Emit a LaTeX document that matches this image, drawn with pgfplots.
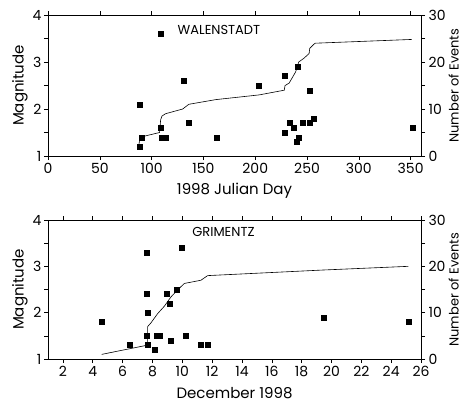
\documentclass[border=0pt]{standalone}
\usepackage{fontspec}
\setmainfont{Poppins}
\usepackage{pgfplots}
\pgfplotsset{compat=1.18}

\pgfplotstableread{
x m
88.5 1.2
88.5 2.1
90.5 1.4
108.7 3.6
108.7 1.6
110 1.4
113.5 1.4
131 2.6
136 1.7
163 1.4
203 2.5
228.5 2.7
228.5 1.5
233.3 1.7
237 1.6
240 1.3
241.3 2.9
242.3 1.4
245.8 1.7
252.9 2.4
252.9 1.7
256 1.8
352 1.6
}\walmag

\pgfplotstableread{
x c
87.5 2
88.8 4
107.7 5
108.7 7.7
110 8.5
113.5 9
130 10
135.9 11
162 12
203.8 13
228 14
228.8 15
232.7 15.5
239 17.9
242 20
247 20.8
252 21.8
252.6 22.9
256.7 23.8
258 24
351 24.8
}\walcum

\pgfplotstableread{
x m
4.63 1.8
6.48 1.3
7.59 3.3
7.64 2.4
7.70 2.0
7.59 1.5
7.70 1.3
8.13 1.2
8.26 1.5
8.51 1.5
8.93 2.4
9.20 1.4
9.18 2.2
9.64 2.5
9.96 3.4
10.22 1.5
11.25 1.3
11.72 1.3
19.45 1.9
25.15 1.8
}\grimag

\pgfplotstableread{
x c
4.6 1
7.68 3
7.68 7
7.9 7.8
8.35 9.8
8.8 11.4
9.13 12.9
9.24 13.4
9.69 14.9
10.13 16.3
11.25 17
11.7 18
19.4 19.2
25.15 20
}\gricum

\begin{document}
\begin{tikzpicture}[x=1pt,y=1pt]
\pgfplotsset{
  common/.style={
    scale only axis, width=373pt,
    anchor=south west,
    tick align=outside,
    /pgf/number format/assume math mode=true,
    axis line style={line width=0.6pt, black},
    major tick length=4pt, minor tick length=4pt,
    every tick/.style={line width=0.6pt, black},
    tick label style={font=\fontsize{14}{16}\selectfont},
  },
  magax/.style={common,
    ymin=1, ymax=4, ytick={1,2,3,4}, minor ytick={1.5,2.5,3.5},
    axis y line*=left,
    ylabel={Magnitude},
    yticklabel style={xshift=1pt},
    every axis y label/.style={at={(axis description cs:-0.075,0.5)}, rotate=90, anchor=center, font=\fontsize{15}{17}\selectfont},
    every axis x label/.style={at={(axis description cs:0.5,-0.245)}, anchor=center, font=\fontsize{15}{17}\selectfont},
    xtick pos=both, xticklabel pos=bottom,
  },
  cntax/.style={common,
    ymin=0, ymax=30, ytick={0,10,20,30}, minor ytick={5,15,25},
    axis y line*=right, axis x line=none,
    ylabel={Number of Events},
    every axis y label/.style={at={(axis description cs:1.0735,0.5)}, rotate=90, anchor=north, inner sep=0pt, font=\fontsize{13}{15}\selectfont},
  },
}
% ---------- Walenstadt ----------
\begin{axis}[magax, at={(48pt,249pt)}, height=141pt,
  xmin=0, xmax=360, xtick={0,50,...,350},
  xlabel={1998 Julian Day}]
  \addplot[only marks, mark=square*, mark size=2.5pt, black] table[x=x,y=m]{\walmag};
  \node[font=\fontsize{13}{15}\selectfont] at (axis cs:165,3.68) {WALENSTADT};
\end{axis}
\begin{axis}[cntax, at={(48pt,249pt)}, height=141pt, xmin=0, xmax=360]
  \addplot[black, line width=0.6pt, mark=none] table[x=x,y=c]{\walcum};
\end{axis}
% ---------- Grimentz ----------
\begin{axis}[magax, at={(48pt,46pt)}, height=139pt,
  xmin=1, xmax=26, xtick={2,4,...,26},
  xlabel={December 1998}]
  \addplot[only marks, mark=square*, mark size=2.5pt, black] table[x=x,y=m]{\grimag};
  \node[font=\fontsize{13}{15}\selectfont] at (axis cs:12.76,3.74) {GRIMENTZ};
\end{axis}
\begin{axis}[cntax, at={(48pt,46pt)}, height=139pt, xmin=1, xmax=26]
  \addplot[black, line width=0.6pt, mark=none] table[x=x,y=c]{\gricum};
\end{axis}
\pgfresetboundingbox
\path[use as bounding box] (0,0) rectangle (462pt,405pt);
\end{tikzpicture}
\end{document}
